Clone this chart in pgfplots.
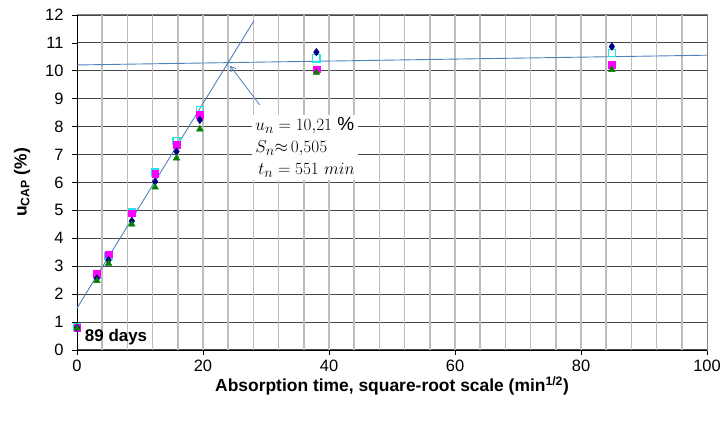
\documentclass[border=0pt]{standalone}
\usepackage{pgfplots}
\pgfplotsset{compat=1.18}
\usepackage{fontspec}
\setmainfont{Liberation Sans}
\usetikzlibrary{arrows.meta}
\definecolor{navyc}{HTML}{000080}
\definecolor{cyanc}{HTML}{22E6E6}
\definecolor{magc}{HTML}{FF00FF}
\definecolor{greenc}{HTML}{008000}
\definecolor{linec}{HTML}{4F81BD}
\definecolor{vgrid}{HTML}{BEBEBE}
\begin{document}
\begin{tikzpicture}
\useasboundingbox (0,0) rectangle (723bp,424bp);
\begin{axis}[
  at={(77bp,74bp)}, anchor=south west,
  scale only axis, width=630bp, height=335bp,
  xmin=0, xmax=100, ymin=0, ymax=12,
  xtick={0,20,40,60,80,100},
  ytick={0,1,...,12},
  extra x ticks={4,8,12,16,20,24,28,32,36,40,44,48,52,56,60,64,68,72,76,80,84,88,92,96},
  extra x tick labels={},
  extra x tick style={xmajorgrids=true, major tick length=0pt, major grid style={draw=vgrid, line width=1.5bp}},
  ymajorgrids,
  major grid style={draw=black!72, line width=1.1bp},
  axis line style={draw=black!50, line width=1bp},
  tick align=outside, major tick length=5bp,
  tick style={black, line width=0.8bp},
  xtick pos=bottom, ytick pos=left,
  /pgf/number format/assume math mode=true,
  ticklabel style={font=\fontsize{16.5}{16.5}\selectfont},
  yticklabel style={xshift=-5bp},
  xticklabel style={yshift=-2bp},
  label style={font=\bfseries\fontsize{17.5}{20}\selectfont},
  xlabel={Absorption time, square-root scale (min\textsuperscript{1/2})},
  ylabel={u\textsubscript{CAP} (\%)},
  xlabel style={at={(axis description cs:0.5,-0.108)}, anchor=center},
  ylabel style={at={(axis description cs:-0.087,0.5)}, anchor=center},
  clip=false,
]
\draw[black, line width=1bp] (axis cs:0,12) -- (axis cs:0,0) -- (axis cs:100,0);
\addplot[color=linec, line width=0.9bp, forget plot] coordinates {(0,1.5) (28.1,11.8)};
\addplot[color=linec, line width=0.9bp, forget plot] coordinates {(0,10.21) (100,10.56)};
\draw[linec, line width=0.8bp, -{Straight Barb[length=5bp,width=6bp]}] (axis cs:29.0,8.78) -- (axis cs:24.3,10.18);
\node[fill=white, align=left, inner sep=3bp, font=\fontsize{19}{22}\selectfont] at (axis cs:36.2,7.25)
  {$u_n = 10{,}21\ \%$\\$S_n{\approx}\,0{,}505$\\$\,t_n = 551\ min$};
% cyan open squares
\addplot[only marks, mark=square, mark size=3.6bp, draw=cyanc, line width=1.3bp] coordinates {
(0,0.82) (3.16,2.70) (5.0,3.36) (8.7,4.92) (12.4,6.35) (15.8,7.48) (19.5,8.60) (38.0,10.45) (84.9,10.63)};
% magenta filled squares
\addplot[only marks, mark=square*, mark size=3.3bp, draw=magc, fill=magc] coordinates {
(0,0.80) (3.16,2.74) (5.0,3.43) (8.7,4.90) (12.4,6.31) (15.8,7.35) (19.5,8.42) (38.0,10.06) (84.9,10.21)};
% navy diamonds
\addplot[only marks, mark=diamond*, mark size=3.8bp, draw=navyc, fill=navyc] coordinates {
(0,0.80) (3.16,2.56) (5.0,3.22) (8.7,4.62) (12.4,6.03) (15.8,7.11) (19.5,8.24) (38.0,10.67) (84.9,10.87)};
% green triangles
\addplot[only marks, mark=triangle*, mark size=3.8bp, draw=greenc, fill=greenc] coordinates {
(0,0.78) (3.16,2.48) (5.0,3.10) (8.7,4.50) (12.4,5.83) (15.8,6.87) (19.5,7.91) (38.0,9.94) (84.9,10.04)};
\node[font=\bfseries\fontsize{17}{17}\selectfont] at (axis cs:6.2,0.45) {89 days};
\end{axis}
\end{tikzpicture}
\end{document}
